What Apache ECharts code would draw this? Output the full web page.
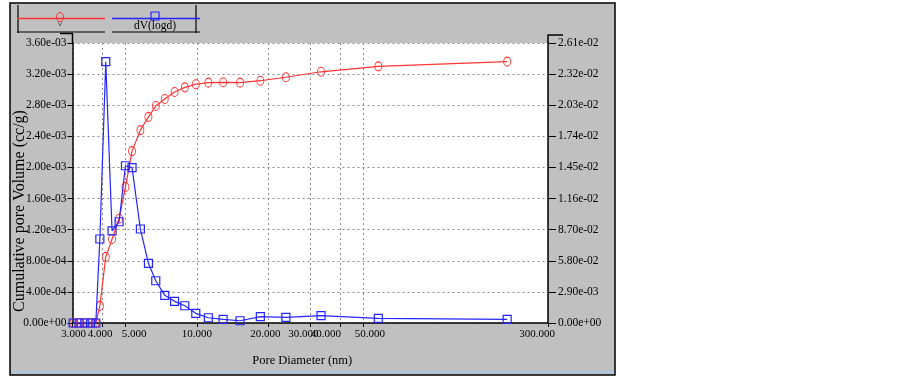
<!DOCTYPE html>
<html><head><meta charset="utf-8">
<script src="https://cdn.jsdelivr.net/npm/echarts@6/dist/echarts.min.js"></script>
<style>html,body{margin:0;padding:0;background:#fff}#c{width:902px;height:378px}</style>
</head><body><div id="c"></div>
<script>
// ---- data ----
const poreDiameter = [3.02, 3.20, 3.38, 3.57, 3.76, 3.91, 4.14, 4.40, 4.71, 5.01, 5.34, 5.79, 6.26, 6.72, 7.33, 8.06, 8.90, 9.90, 11.18, 12.9, 15.2, 18.5, 23.7, 33.3, 58.0, 202];
const cumulativeVolume = [0, 0, 0, 0, 0, 2.2e-4, 8.5e-4, 1.08e-3, 1.34e-3, 1.75e-3, 2.21e-3, 2.48e-3, 2.65e-3, 2.79e-3, 2.88e-3, 2.97e-3, 3.03e-3, 3.07e-3, 3.09e-3, 3.095e-3, 3.09e-3, 3.115e-3, 3.16e-3, 3.23e-3, 3.30e-3, 3.36e-3];
const dVlogd = [0, 0, 0, 0, 0, 7.83e-3, 2.436e-2, 8.58e-3, 9.44e-3, 1.466e-2, 1.448e-2, 8.76e-3, 5.56e-3, 3.94e-3, 2.58e-3, 2.02e-3, 1.61e-3, 9.0e-4, 4.9e-4, 3.4e-4, 2.1e-4, 5.9e-4, 5.3e-4, 6.8e-4, 4.4e-4, 3.4e-4];
const xTickValues = [3, 4, 5, 10, 20, 30, 40, 50, 300];
const xTickLabels = ['3.000', '4.000', '5.000', '10.000', '20.000', '30.000', '40.000', '50.000', '300.000'];
const leftTickLabels = ['0.00e+00', '4.00e-04', '8.00e-04', '1.20e-03', '1.60e-03', '2.00e-03', '2.40e-03', '2.80e-03', '3.20e-03', '3.60e-03'];
const rightTickLabels = ['0.00e+00', '2.90e-03', '5.80e-02', '8.70e-02', '1.16e-02', '1.45e-02', '1.74e-02', '2.03e-02', '2.32e-02', '2.61e-02'];
const seriesNames = ['Cumulative pore Volume', 'dV(logd)'];
const axisTitles = { x: 'Pore Diameter (nm)', y: 'Cumulative pore Volume (cc/g)' };

// ---- styling ----
const FONT = 'Liberation Serif';
const RED = '#ff3333', BLUE = '#2424ff', GRID = '#8c8c8c';
const xLabelShift = [1, -2, 9, 0, -3, -7, -14, 7, -11];
const rich = {};
xLabelShift.forEach((s, i) => {
  rich['t' + i] = { fontFamily: FONT, fontSize: 11, color: '#000',
    padding: s >= 0 ? [0, 0, 0, 2 * s] : [0, -2 * s, 0, 0] };
});
const xLog = xTickValues.map(v => Math.log10(v));

const chart = echarts.init(document.getElementById('c'), null, { renderer: 'canvas' });
chart.setOption({
  animation: false,
  backgroundColor: '#ffffff',
  grid: { left: 72.5, right: 354, top: 43, bottom: 55, show: true, backgroundColor: '#ffffff', borderWidth: 0,
    containLabel: false, outerBoundsMode: 'none' },
  xAxis: {
    type: 'value', min: Math.log10(xTickValues[0]), max: Math.log10(xTickValues[xTickValues.length - 1]),
    name: axisTitles.x, nameLocation: 'middle', nameGap: 31, nameMoveOverlap: false,
    nameTextStyle: { fontFamily: FONT, fontSize: 12.5, color: '#000', padding: [0, 16, 0, 0] },
    axisLine: { show: true, onZero: false, lineStyle: { color: '#000', width: 1.5 } },
    axisTick: { show: true, inside: false, length: 4, customValues: xLog, lineStyle: { color: '#000' } },
    axisLabel: { customValues: xLog, margin: 6, rich: rich, showMinLabel: true, showMaxLabel: true, hideOverlap: false,
      formatter: v => { const i = xLog.findIndex(t => Math.abs(t - v) < 1e-6); return i < 0 ? '' : '{t' + i + '|' + xTickLabels[i] + '}'; } },
    splitLine: { show: true, lineStyle: { color: GRID, type: [2, 3], width: 1 } }
  },
  yAxis: [{
    type: 'value', min: 0, max: 0.0036, interval: 0.0004, position: 'left',
    name: axisTitles.y, nameLocation: 'middle', nameGap: 45, nameRotate: 90, nameMoveOverlap: false,
    nameTextStyle: { fontFamily: FONT, fontSize: 16, color: '#000', padding: [0, 56, 0, 0] },
    axisLine: { show: true, lineStyle: { color: '#000', width: 1.5 } },
    axisTick: { show: true, length: 5, lineStyle: { color: '#000' } },
    axisLabel: { fontFamily: FONT, fontSize: 11.5, color: '#000', margin: 6, showMinLabel: true, showMaxLabel: true,
      formatter: v => leftTickLabels[Math.round(v / 0.0004)] },
    splitLine: { show: true, lineStyle: { color: GRID, type: [2, 3], width: 1 } }
  }, {
    type: 'value', min: 0, max: 0.0261, interval: 0.0029, position: 'right',
    axisLine: { show: true, lineStyle: { color: '#000', width: 1.5 } },
    axisTick: { show: true, length: 8, lineStyle: { color: '#000' } },
    axisLabel: { fontFamily: FONT, fontSize: 11.5, color: '#000', margin: 10, showMinLabel: true, showMaxLabel: true,
      formatter: v => rightTickLabels[Math.round(v / 0.0029)] },
    splitLine: { show: false }
  }],
  series: [{
    name: seriesNames[0], type: 'line', yAxisIndex: 0,
    data: poreDiameter.map((d, i) => [Math.log10(d), cumulativeVolume[i]]),
    symbol: 'circle', symbolSize: [7, 9],
    itemStyle: { color: 'rgba(255,255,255,0)', borderColor: RED, borderWidth: 1 },
    lineStyle: { color: RED, width: 1.2 }, z: 3
  }, {
    name: seriesNames[1], type: 'line', yAxisIndex: 1,
    data: poreDiameter.map((d, i) => [Math.log10(d), dVlogd[i]]),
    symbol: 'rect', symbolSize: 8,
    itemStyle: { color: 'rgba(255,255,255,0)', borderColor: BLUE, borderWidth: 1.2 },
    lineStyle: { color: BLUE, width: 1.2 }, z: 4
  }],
  graphic: [
    { type: 'rect', z: -100, shape: { x: 10, y: 3, width: 605, height: 372 }, style: { fill: '#c0c0c0', stroke: '#000', lineWidth: 1.5 } },
    { type: 'line', z: -99, shape: { x1: 11, y1: 372.5, x2: 614, y2: 372.5 }, style: { stroke: '#a9c9ea', lineWidth: 1.5 } },
    // legend box
    { type: 'line', z: 10, shape: { x1: 18, y1: 5, x2: 18, y2: 33 }, style: { stroke: '#000', lineWidth: 1.2 } },
    { type: 'line', z: 10, shape: { x1: 196, y1: 5, x2: 196, y2: 33 }, style: { stroke: '#000', lineWidth: 1.2 } },
    { type: 'line', z: 10, shape: { x1: 17, y1: 32, x2: 105, y2: 32 }, style: { stroke: '#000', lineWidth: 1.2 } },
    { type: 'line', z: 10, shape: { x1: 112, y1: 32, x2: 200, y2: 32 }, style: { stroke: '#000', lineWidth: 1.2 } },
    { type: 'line', z: 10, shape: { x1: 17, y1: 18.5, x2: 105, y2: 18.5 }, style: { stroke: RED, lineWidth: 1.5 } },
    { type: 'ellipse', z: 11, shape: { cx: 60, cy: 17, rx: 3.5, ry: 4.5 }, style: { fill: 'rgba(0,0,0,0)', stroke: RED, lineWidth: 1 } },
    { type: 'polyline', z: 11, shape: { points: [[58, 21.5], [60, 26], [62, 21.5]] }, style: { fill: 'none', stroke: '#555', lineWidth: 0.8 } },
    { type: 'line', z: 10, shape: { x1: 112, y1: 18.5, x2: 200, y2: 18.5 }, style: { stroke: BLUE, lineWidth: 1.5 } },
    { type: 'rect', z: 11, shape: { x: 151, y: 12, width: 8, height: 8 }, style: { fill: 'rgba(0,0,0,0)', stroke: BLUE, lineWidth: 1.2 } },
    { type: 'text', z: 12, x: 155, y: 26, style: { text: seriesNames[1], fontFamily: FONT, fontSize: 11.5, fill: '#000', textAlign: 'center', textVerticalAlign: 'middle' } },
    // axis caps above the plot
    { type: 'line', z: 10, shape: { x1: 72.5, y1: 33.5, x2: 72.5, y2: 43 }, style: { stroke: '#000', lineWidth: 1.5 } },
    { type: 'line', z: 10, shape: { x1: 60, y1: 33.5, x2: 73, y2: 33.5 }, style: { stroke: '#000', lineWidth: 1.5 } },
    { type: 'line', z: 10, shape: { x1: 548, y1: 35, x2: 548, y2: 43 }, style: { stroke: '#000', lineWidth: 1.5 } },
    { type: 'line', z: 10, shape: { x1: 547.5, y1: 35, x2: 563, y2: 35 }, style: { stroke: '#000', lineWidth: 1.5 } }
  ]
});
</script></body></html>
